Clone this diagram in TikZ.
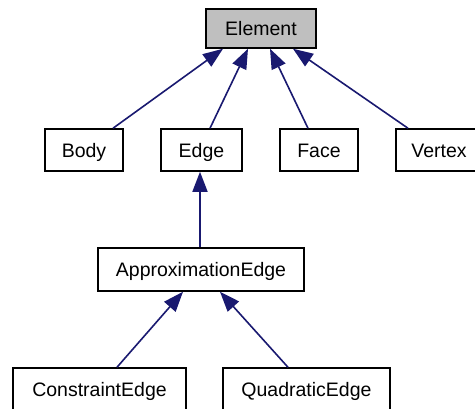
\documentclass[tikz,border=0pt]{standalone}
\usepackage{fontspec}
\setmainfont{Liberation Sans}
\usetikzlibrary{arrows.meta,calc}
\definecolor{edgeblue}{HTML}{191970}
\definecolor{basegray}{HTML}{BFBFBF}
\tikzset{
  cls/.style={draw=black, line width=1.5pt, fill=white, inner sep=0pt,
    font=\fontsize{19.5}{22}\selectfont, text height=16pt, text depth=2pt,
    minimum height=42pt},
  inh/.style={draw=edgeblue, line width=1.6pt,
    -{Triangle[length=20pt,width=15pt]}, edgeblue}
}
\begin{document}
\begin{tikzpicture}[x=1pt,y=-1pt]
\clip (0,0) rectangle (475,408);
\fill[white] (0,0) rectangle (475,408);
\node[cls, fill=basegray, minimum width=110pt, minimum height=39pt] (element) at (261,28.5) {Element};
\node[cls, minimum width=78pt] (body) at (84,150) {Body};
\node[cls, minimum width=81pt] (edge) at (201.5,150) {Edge};
\node[cls, minimum width=78pt] (face) at (319,150) {Face};
\node[cls, minimum width=86pt] (vertex) at (439,150) {Vertex};
\node[cls, minimum width=206pt, minimum height=43pt] (approx) at (201,269.5) {ApproximationEdge};
\node[cls, minimum width=173pt] (constraint) at (99.5,389) {ConstraintEdge};
\node[cls, minimum width=167pt] (quadratic) at (306.5,389) {QuadraticEdge};
\draw[inh] ([xshift=29pt]body.north) -- ([xshift=-38pt]element.south);
\draw[inh] ([xshift=8.5pt]edge.north) -- ([xshift=-13pt]element.south);
\draw[inh] ([xshift=-11pt]face.north) -- ([xshift=9pt]element.south);
\draw[inh] ([xshift=-31pt]vertex.north) -- ([xshift=32pt]element.south);
\draw[inh] ([xshift=-1pt]approx.north) -- ([xshift=-1.5pt]edge.south);
\draw[inh] ([xshift=17.5pt]constraint.north) -- ([xshift=-18pt]approx.south);
\draw[inh] ([xshift=-18.5pt]quadratic.north) -- ([xshift=19pt]approx.south);
\end{tikzpicture}
\end{document}
